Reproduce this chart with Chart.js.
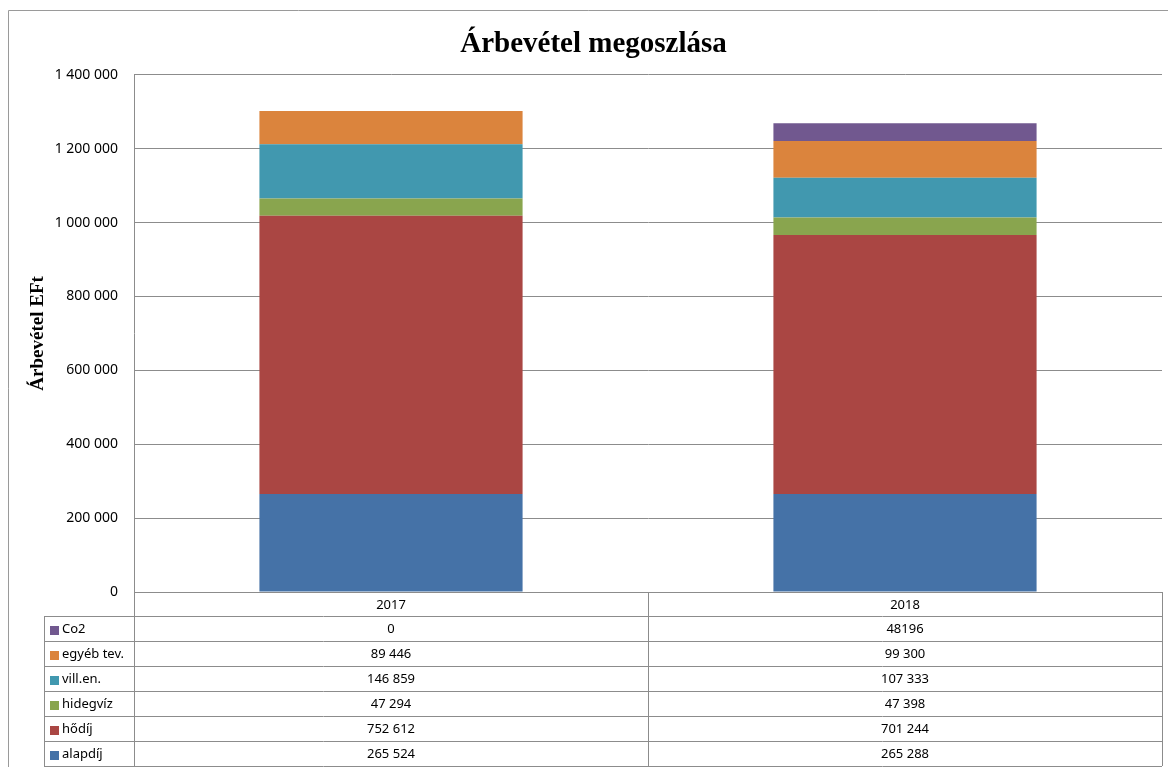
<!DOCTYPE html>
<html>
<head>
<meta charset="utf-8">
<script src="https://cdn.jsdelivr.net/npm/chart.js@4/dist/chart.umd.min.js"></script>
<style>
  html, body { margin: 0; padding: 0; background: #fff; }
  canvas { display: block; }
</style>
</head>
<body>
<canvas id="revenueChart" width="1168" height="767"></canvas>
<script>
const years = ["2017", "2018"];
const seriesNames = ["alapdíj", "hődíj", "hidegvíz", "vill.en.", "egyéb tev.", "Co2"];
const alapdij = [265524, 265288];
const hodij = [752612, 701244];
const hidegviz = [47294, 47398];
const villEn = [146859, 107333];
const egyebTev = [89446, 99300];
const co2 = [0, 48196];
const seriesColors = ["#4572A7", "#AA4643", "#89A54E", "#4198AF", "#DB843D", "#71588F"];
const yTicks = [0, 200000, 400000, 600000, 800000, 1000000, 1200000, 1400000];
const plainNumberSeries = ["Co2"]; // shown without thousands separator in the table

const lineGray = "#8c8c8c";
const tableFont = "13px 'Noto Sans'";

function fmt(v) {
    return String(v).replace(/\B(?=(\d{3})+(?!\d))/g, " ");
}

const seriesValues = [alapdij, hodij, hidegviz, villEn, egyebTev, co2];

const datasets = seriesNames.map(function (name, i) {
    return {
        label: name,
        data: seriesValues[i],
        backgroundColor: seriesColors[i],
        borderWidth: 0
    };
});

// frame around the chart + the data table under the plot
const dataTablePlugin = {
    id: "dataTable",
    beforeDraw: function (chart) {
        const c = chart.ctx;
        c.save();
        c.strokeStyle = "#9a9a9a";
        c.lineWidth = 1;
        c.beginPath();
        c.moveTo(8.5, chart.height);
        c.lineTo(8.5, 10.5);
        c.lineTo(chart.width, 10.5);
        c.stroke();
        c.restore();
    },
    afterDraw: function (chart) {
        const c = chart.ctx;
        const area = chart.chartArea;
        const xScale = chart.scales.x;
        const rowH = 25;
        const legendLeft = 44;
        const top = area.bottom;
        const bottom = top + rowH * (seriesNames.length + 1) - 1;
        const catW = (area.right - area.left) / years.length;

        c.save();
        c.strokeStyle = lineGray;
        c.lineWidth = 1;

        // horizontal lines
        c.beginPath();
        c.moveTo(area.left, Math.round(top) + 0.5);
        c.lineTo(area.right, Math.round(top) + 0.5);
        for (let r = 1; r <= seriesNames.length + 1; r++) {
            const y = Math.round(top + r * rowH) - 0.5;
            c.moveTo(legendLeft, y);
            c.lineTo(area.right, y);
        }
        // vertical lines
        c.moveTo(legendLeft + 0.5, top + rowH);
        c.lineTo(legendLeft + 0.5, bottom);
        for (let i = 0; i <= years.length; i++) {
            const x = Math.round(area.left + i * catW) + 0.5;
            c.moveTo(x, top);
            c.lineTo(x, bottom);
        }
        c.stroke();

        // header row
        c.fillStyle = "#000";
        c.font = tableFont;
        c.textAlign = "center";
        c.textBaseline = "middle";
        years.forEach(function (yr, i) {
            c.fillText(yr, xScale.getPixelForValue(i), top + rowH / 2 + 1);
        });

        // series rows, top row is the last series
        for (let r = 0; r < seriesNames.length; r++) {
            const s = seriesNames.length - 1 - r;
            const yMid = top + rowH * (r + 1) + rowH / 2;
            c.fillStyle = seriesColors[s];
            c.fillRect(50, Math.round(yMid - 4), 9, 9);
            c.fillStyle = "#000";
            c.textAlign = "left";
            c.fillText(seriesNames[s], 62, yMid);
            c.textAlign = "center";
            const plain = plainNumberSeries.indexOf(seriesNames[s]) >= 0;
            seriesValues[s].forEach(function (v, i) {
                c.fillText(plain ? String(v) : fmt(v), xScale.getPixelForValue(i), yMid);
            });
        }
        c.restore();
    }
};

const ctx = document.getElementById("revenueChart").getContext("2d");
const revenueChart = new Chart(ctx, {
    type: "bar",
    data: {
        labels: years,
        datasets: datasets
    },
    options: {
        responsive: false,
        animation: false,
        devicePixelRatio: 1,
        layout: {
            padding: { left: 25, right: 6, top: 10, bottom: 175 }
        },
        datasets: {
            bar: {
                categoryPercentage: 1,
                barPercentage: 0.512
            }
        },
        plugins: {
            legend: { display: false },
            tooltip: { enabled: false },
            title: {
                display: true,
                text: "Árbevétel megoszlása",
                color: "#000",
                font: { family: "'Liberation Serif'", size: 29, weight: "bold" },
                padding: { top: 17, bottom: 13 }
            }
        },
        scales: {
            x: {
                stacked: true,
                afterFit: function (scale) { scale.height = 0; },
                ticks: { display: false },
                grid: { display: false },
                border: { display: false }
            },
            y: {
                stacked: true,
                min: 0,
                max: 1400000,
                afterFit: function (scale) { scale.width = 109; },
                afterBuildTicks: function (scale) {
                    scale.ticks = yTicks.map(function (v) { return { value: v }; });
                },
                ticks: {
                    color: "#000",
                    font: { family: "'Noto Sans'", size: 14 },
                    padding: 16,
                    callback: function (v) { return fmt(v); }
                },
                grid: {
                    color: lineGray,
                    lineWidth: 1,
                    drawTicks: false
                },
                border: { display: true, color: lineGray, width: 1 },
                title: {
                    display: true,
                    text: "Árbevétel EFt",
                    color: "#000",
                    font: { family: "'Liberation Serif'", size: 19, weight: "bold" },
                    padding: { top: 2, bottom: 0 }
                }
            }
        }
    },
    plugins: [dataTablePlugin]
});
</script>
</body>
</html>
